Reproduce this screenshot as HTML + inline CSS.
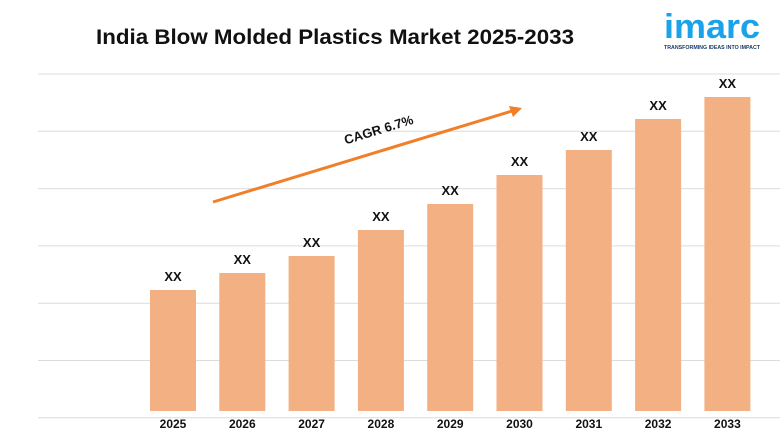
<!DOCTYPE html>
<html><head><meta charset="utf-8"><style>
body{margin:0;background:#fff;width:780px;height:440px;overflow:hidden;font-family:"Liberation Sans",sans-serif}
</style></head><body>
<svg width="780" height="440">
<text x="335" y="44" text-anchor="middle" font-size="21" font-weight="bold" fill="#111" textLength="478" lengthAdjust="spacingAndGlyphs">India Blow Molded Plastics Market 2025-2033</text>
<g>
<text x="712" y="38" text-anchor="middle" font-size="34" font-weight="bold" fill="#1aa3e8" textLength="96" lengthAdjust="spacingAndGlyphs">imarc</text>
<text x="712" y="49" text-anchor="middle" font-size="5.5" font-weight="bold" fill="#1a3a66" textLength="96" lengthAdjust="spacingAndGlyphs">TRANSFORMING IDEAS INTO IMPACT</text>
</g>
<g id="grid"></g>
<g id="bars"></g>
<g>
<line x1="213" y1="202" x2="512" y2="111" stroke="#f07f2a" stroke-width="3"/>
<polygon points="522,108 509,106 513,117" fill="#f07f2a"/>
</g>
<text x="380" y="134" font-size="13" font-weight="bold" fill="#111" transform="rotate(-17 380 134)" text-anchor="middle">CAGR  6.7%</text>
</svg>
<script>
const categories=["2025","2026","2027","2028","2029","2030","2031","2032","2033"];
const values=[121,138,155,181,207,236,261,292,314];
const valueLabels=["XX","XX","XX","XX","XX","XX","XX","XX","XX"];
const ns="http://www.w3.org/2000/svg";
const base=411, x0=150, step=69.3, bw=46;
const y=v=>base-v;
const xs=i=>x0+i*step;
const grid=document.getElementById('grid');
for(let k=0;k<7;k++){
  const l=document.createElementNS(ns,'line');
  const gy=74+k*57.3;
  l.setAttribute('x1',38);l.setAttribute('x2',780);l.setAttribute('y1',gy);l.setAttribute('y2',gy);
  l.setAttribute('stroke','#dcdcdc');l.setAttribute('stroke-width','1');
  
  
  grid.appendChild(l);
}
const g=document.getElementById('bars');
categories.forEach((c,i)=>{
  const r=document.createElementNS(ns,'rect');
  r.setAttribute('x',xs(i));r.setAttribute('y',y(values[i]));r.setAttribute('width',bw);r.setAttribute('height',values[i]);
  r.setAttribute('fill','#f3b083');
  
  
  g.appendChild(r);
  const t=document.createElementNS(ns,'text');
  t.setAttribute('x',xs(i)+bw/2);t.setAttribute('y',y(values[i])-9);t.setAttribute('text-anchor','middle');
  t.setAttribute('font-size','13');t.setAttribute('font-weight','bold');t.setAttribute('fill','#111');
  t.textContent=valueLabels[i];
  
  
  g.appendChild(t);
  const a=document.createElementNS(ns,'text');
  a.setAttribute('x',xs(i)+bw/2);a.setAttribute('y',428);a.setAttribute('text-anchor','middle');
  a.setAttribute('font-size','12');a.setAttribute('font-weight','bold');a.setAttribute('fill','#111');
  a.textContent=c;
  
  
  g.appendChild(a);
});
</script>
</body></html>
